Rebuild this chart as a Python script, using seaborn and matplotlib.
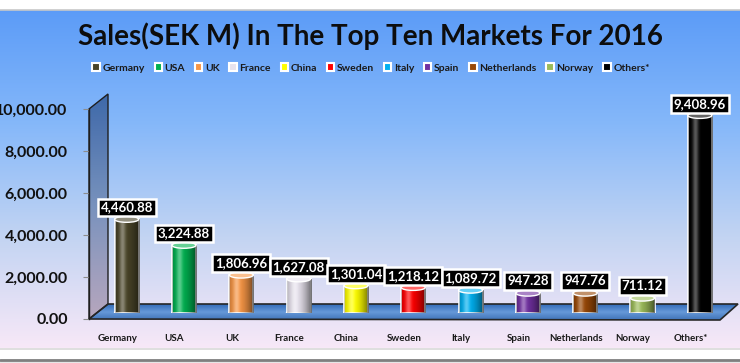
import numpy as np
import matplotlib
matplotlib.use("Agg")
import matplotlib.pyplot as plt
import seaborn as sns
from matplotlib.patches import Polygon, Ellipse, Patch
from matplotlib.colors import to_rgb

# Chart data
markets = ["Germany", "USA", "UK", "France", "China", "Sweden", "Italy",
           "Spain", "Netherlands", "Norway", "Others*"]
sales = [4460.88, 3224.88, 1806.96, 1627.08, 1301.04, 1218.12, 1089.72,
         947.28, 947.76, 711.12, 9408.96]
colors = ["#4a4529", "#00b050", "#f79646", "#e8e3ee", "#ffff00", "#ff0000",
          "#00b0f0", "#7030a0", "#984807", "#9bbb59", "#000000"]
y_ticks = [0, 2000, 4000, 6000, 8000, 10000]

W, H = 740, 363


def fx(x):
    return x / W


def fy(y):
    return 1 - y / H


sns.set_style("white")
plt.rcParams['font.family'] = ['Lato', 'DejaVu Sans']

fig = plt.figure(figsize=(W / 100, H / 100), dpi=100)
fig.patch.set_facecolor("white")

# Decoration layer in pixel coordinates (background, wall, floor)
deco = fig.add_axes([0, 0, 1, 1], zorder=0)
deco.set_xlim(0, W)
deco.set_ylim(H, 0)
deco.axis("off")

# background gradient
stops = np.array([[0.36, 0.61, 0.97], [0.52, 0.72, 0.98], [0.76, 0.83, 0.95], [0.97, 0.91, 0.97]])
t = np.linspace(0, 1, 256)
grad = np.stack([np.interp(t, np.linspace(0, 1, len(stops)), stops[:, k]) for k in range(3)], axis=1)
deco.imshow(grad[:, None, :], extent=[0, W, 348, 10], aspect="auto", zorder=0)
deco.axhline(9.5, color="#c8c8c8", lw=1.2)
deco.axhline(348.5, color="#d9d9d9", lw=1.2)
deco.axhline(360, color="#7f7f7f", lw=2)
deco.axhspan(361, H, color="#e6e6e6")

# side wall
wall = Polygon([[89, 319], [89, 109], [108, 94], [108, 304]], closed=True,
               fc="none", ec="#1f1f1f", lw=1, zorder=3)
deco.add_patch(wall)
wstops = np.array([[0.22, 0.38, 0.63], [0.45, 0.55, 0.72], [0.70, 0.63, 0.72]])
wt = np.linspace(0, 1, 128)
wgrad = np.stack([np.interp(wt, [0, 0.5, 1], wstops[:, k]) for k in range(3)], axis=1)
wim = deco.imshow(wgrad[:, None, :], extent=[89, 108, 319, 94], aspect="auto", zorder=2, alpha=0.9)
wim.set_clip_path(wall)

# floor
floor = Polygon([[89, 319], [108, 304], [738, 304], [720, 320]], closed=True,
                fc="none", ec="#262626", lw=1.2, zorder=3)
deco.add_patch(floor)
fstops = np.array([[0.20, 0.42, 0.72], [0.40, 0.60, 0.85], [0.25, 0.45, 0.72]])
ft = np.linspace(0, 1, 64)
fgrad = np.stack([np.interp(ft, [0, 0.5, 1], fstops[:, k]) for k in range(3)], axis=1)
fim = deco.imshow(fgrad[:, None, :], extent=[89, 738, 320, 304], aspect="auto", zorder=2)
fim.set_clip_path(floor)
deco.set_xlim(0, W)
deco.set_ylim(H, 0)

# Front plane axes: value axis and category labels
axf = fig.add_axes([fx(88.5), fy(319), (719 - 88.5) / W, (319 - 109) / H], zorder=1)
axf.patch.set_alpha(0)
axf.set_xlim(-0.5, 10.5)
axf.set_ylim(0, 10000)
axf.set_yticks(y_ticks)
axf.set_yticklabels([f"{v:,.2f}" for v in y_ticks], fontsize=11.5, fontweight="bold", color="#111111")
axf.set_xticks(range(len(markets)))
axf.set_xticklabels(markets, fontsize=7, fontweight="bold", color="#1a1a1a")
axf.tick_params(axis="y", length=4, color="#8c8c8c", pad=11, left=True)
axf.tick_params(axis="x", length=0, pad=11)
for side in ["top", "right", "bottom"]:
    axf.spines[side].set_visible(False)
axf.spines["left"].set_color("#1f1f1f")
axf.spines["left"].set_linewidth(1)
axf.grid(False)

# Bars axes (mid-depth plane)
ax = fig.add_axes([fx(98), fy(313), (728.5 - 98) / W, (313 - 103) / H], zorder=2)
ax.patch.set_alpha(0)
sns.barplot(x=markets, y=sales, hue=markets, palette=colors, legend=False,
            width=0.42, saturation=1, edgecolor="white", linewidth=1.2, ax=ax)
ax.set_xlim(-0.5, 10.5)
ax.set_ylim(0, 10000)
ax.axis("off")

ell_h = 6 / 210 * 10000
tt = np.linspace(0, 1, 64)
dark = np.zeros((1, 64, 4))
dark[0, :, 3] = 0.55 * (np.abs(tt - 0.35) / 0.65) ** 1.6
light = np.ones((1, 64, 4))
light[0, :, 3] = 0.35 * np.exp(-((tt - 0.3) / 0.12) ** 2)

for i, p in enumerate(list(ax.patches)):
    x0, w, h = p.get_x(), p.get_width(), p.get_height()
    col = np.array(to_rgb(colors[i]))
    # rounded bottom
    ax.add_patch(Ellipse((x0 + w / 2, 0), w, ell_h, fc=colors[i], ec="white", lw=1.2, zorder=p.zorder - 0.1))
    for shade in (dark, light):
        im = ax.imshow(shade, extent=[x0, x0 + w, 0, h], aspect="auto", zorder=p.zorder + 0.1)
        im.set_clip_path(p)
    # top cap
    cap = col * 0.6 + 0.4
    ax.add_patch(Ellipse((x0 + w / 2, h), w, ell_h, fc=cap, ec="white", lw=1, zorder=p.zorder + 0.2))
    ax.annotate(f"{sales[i]:,.2f}", xy=(x0 + w / 2, h), xytext=(0, 8.5), textcoords="offset points",
                ha="center", va="center", color="white", fontsize=9.5, fontweight="bold",
                annotation_clip=False, zorder=10,
                bbox=dict(boxstyle="square,pad=0.22", fc="black", ec="white", lw=1.8))
ax.set_xlim(-0.5, 10.5)
ax.set_ylim(0, 10000)

# Title and legend
fig.text(0.5, fy(36), "Sales(SEK M) In The Top Ten Markets For 2016", ha="center", va="center",
         fontsize=20, fontweight="bold", color="#0d0d0d")
handles = [Patch(fc=c, ec="white", lw=1.5) for c in colors]
fig.legend(handles, markets, loc="center", bbox_to_anchor=(fx(371), fy(68)), ncol=len(markets),
           frameon=False, handlelength=0.7, handleheight=0.7, handletextpad=0.25,
           columnspacing=0.95, prop={"size": 7.5, "weight": "bold"}, labelcolor="#1a1a1a")

fig.savefig("out.png", dpi=100)
